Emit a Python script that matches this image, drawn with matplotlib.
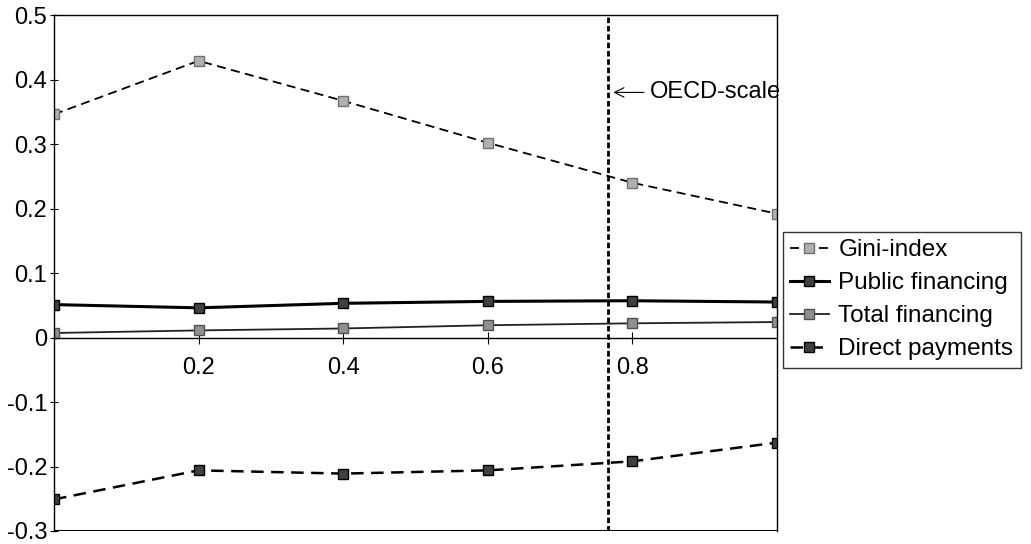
import matplotlib
matplotlib.use("Agg")
import matplotlib.pyplot as plt

x = [0.0, 0.2, 0.4, 0.6, 0.8, 1.0]
gini = [0.346, 0.429, 0.367, 0.302, 0.240, 0.192]
public = [0.051, 0.046, 0.053, 0.056, 0.057, 0.055]
total = [0.007, 0.011, 0.014, 0.019, 0.022, 0.024]
direct = [-0.251, -0.206, -0.211, -0.206, -0.192, -0.163]
oecd_x = 0.767

xticks = [0.2, 0.4, 0.6, 0.8]
yticks = [-0.3, -0.2, -0.1, 0, 0.1, 0.2, 0.3, 0.4, 0.5]
ylabels = ["-0.3", "-0.2", "-0.1", "0", "0.1", "0.2", "0.3", "0.4", "0.5"]

plt.rcParams['font.family'] = ['Liberation Sans', 'DejaVu Sans']

fig = plt.figure(figsize=(10.31, 5.44), dpi=100)
ax = fig.add_axes([0.0524, 0.0239, 0.701, 0.9485])

ax.plot(x, gini, color='black', ls=(0, (5, 3)), lw=1.3, marker='s', ms=7,
        mfc='#b0b0b0', mec='#707070', label='Gini-index')
ax.plot(x, public, color='black', ls='-', lw=2.2, marker='s', ms=7,
        mfc='#404040', mec='black', label='Public financing')
ax.plot(x, total, color='#222222', ls='-', lw=1.3, marker='s', ms=7,
        mfc='#909090', mec='#505050', label='Total financing')
ax.plot(x, direct, color='black', ls=(0, (5, 3)), lw=1.8, marker='s', ms=7,
        mfc='#404040', mec='black', label='Direct payments')

ax.axvline(oecd_x, color='black', ls=(0, (2, 1)), lw=2)
ax.annotate("OECD-scale", xy=(oecd_x + 0.003, 0.38), xytext=(0.824, 0.38),
            va='center', ha='left', fontsize=17,
            arrowprops=dict(arrowstyle='->', lw=0.8, color='black'))

ax.set_xlim(0, 1)
ax.set_ylim(-0.3, 0.5)
ax.spines['bottom'].set_position(('data', 0))
ax.spines['bottom'].set_linewidth(1)
ax.axhline(-0.3, color='black', lw=1.5)
for s in ['left', 'right', 'top']:
    ax.spines[s].set_linewidth(1)

ax.set_xticks(xticks)
ax.set_xticklabels([str(t) for t in xticks])
ax.set_yticks(yticks)
ax.set_yticklabels(ylabels)
ax.tick_params(axis='x', direction='inout', length=8, labelsize=17, pad=10)
ax.tick_params(axis='y', direction='inout', length=6, labelsize=17, pad=2)

leg = ax.legend(loc='center left', bbox_to_anchor=(1.008, 0.448), fontsize=17.5,
                frameon=True, fancybox=False, edgecolor='black',
                handlelength=1.6, handletextpad=0.4, borderpad=0.3,
                borderaxespad=0, labelspacing=0.45)
leg.get_frame().set_linewidth(1)

fig.savefig("out.png", dpi=100)
